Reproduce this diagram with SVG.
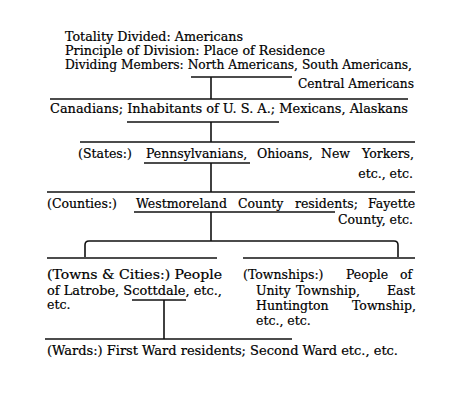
<svg xmlns="http://www.w3.org/2000/svg" width="456" height="400" viewBox="0 0 456 400">
<style>
text{font-family:"DejaVu Serif","Liberation Serif",serif;font-size:12.5px;fill:#000;stroke:#000;stroke-width:0.2}
.ln{stroke:#111;stroke-width:1.6;fill:none}
.ul{stroke:#111;stroke-width:1.3;fill:none}
</style>
<rect width="456" height="400" fill="#fff"/>
<g id="connectors">
<line class="ul" x1="191" y1="77" x2="292" y2="77"/>
<line class="ln" x1="211" y1="77" x2="211" y2="99"/>
<line class="ln" x1="50" y1="99" x2="408" y2="99"/>
<line class="ul" x1="127" y1="122" x2="279" y2="122"/>
<line class="ln" x1="211" y1="122" x2="211" y2="142"/>
<line class="ln" x1="80" y1="142" x2="415" y2="142"/>
<line class="ul" x1="144" y1="163" x2="250" y2="163"/>
<line class="ln" x1="211" y1="163" x2="211" y2="192"/>
<line class="ln" x1="47" y1="192" x2="415" y2="192"/>
<line class="ul" x1="134" y1="212" x2="335" y2="212"/>
<line class="ln" x1="211" y1="212" x2="211" y2="241"/>
<path class="ln" d="M85,257 V245 Q85,241 89,241 H394 Q398,241 398,245 V257"/>
<line class="ln" x1="47" y1="258" x2="217" y2="258"/>
<line class="ln" x1="243" y1="258" x2="415" y2="258"/>
<line class="ul" x1="132" y1="300" x2="186" y2="300"/>
<line class="ln" x1="164" y1="300" x2="164" y2="339"/>
<line class="ln" x1="45" y1="339" x2="292" y2="339"/>
</g>
<g id="header">
<text x="65" y="41" textLength="178" lengthAdjust="spacingAndGlyphs">Totality Divided: Americans</text>
<text x="65" y="55" textLength="260" lengthAdjust="spacingAndGlyphs">Principle of Division: Place of Residence</text>
<text x="65" y="69" textLength="347" lengthAdjust="spacingAndGlyphs">Dividing Members: North Americans, South Americans,</text>
<text x="298" y="88" textLength="116" lengthAdjust="spacingAndGlyphs">Central Americans</text>
</g>
<g id="node-north-americans">
<text x="50" y="113" textLength="358" lengthAdjust="spacingAndGlyphs">Canadians; Inhabitants of U. S. A.; Mexicans, Alaskans</text>
</g>
<g id="node-states">
<text y="158"><tspan x="78">(States:)</tspan><tspan x="146">Pennsylvanians,</tspan><tspan x="257">Ohioans,</tspan><tspan x="321">New</tspan><tspan x="362">Yorkers,</tspan></text>
<text x="413" y="178" text-anchor="end">etc., etc.</text>
</g>
<g id="node-counties">
<text y="208"><tspan x="47">(Counties:)</tspan><tspan x="136">Westmoreland</tspan><tspan x="238">County</tspan><tspan x="295">residents;</tspan><tspan x="368">Fayette</tspan></text>
<text x="413" y="224" text-anchor="end">County, etc.</text>
</g>
<g id="node-towns">
<text x="47" y="279" textLength="175" lengthAdjust="spacingAndGlyphs">(Towns &amp; Cities:) People</text>
<text x="47" y="295" textLength="175" lengthAdjust="spacingAndGlyphs">of Latrobe, Scottdale, etc.,</text>
<text x="47" y="309">etc.</text>
</g>
<g id="node-townships">
<text y="279"><tspan x="243">(Townships:)</tspan><tspan x="346">People</tspan><tspan x="400">of</tspan></text>
<text y="295"><tspan x="256">Unity</tspan><tspan x="296">Township,</tspan><tspan x="387">East</tspan></text>
<text y="310"><tspan x="256">Huntington</tspan><tspan x="352">Township,</tspan></text>
<text x="256" y="325">etc., etc.</text>
</g>
<g id="node-wards">
<text x="47" y="355" textLength="351" lengthAdjust="spacingAndGlyphs">(Wards:) First Ward residents; Second Ward etc., etc.</text>
</g>
</svg>
